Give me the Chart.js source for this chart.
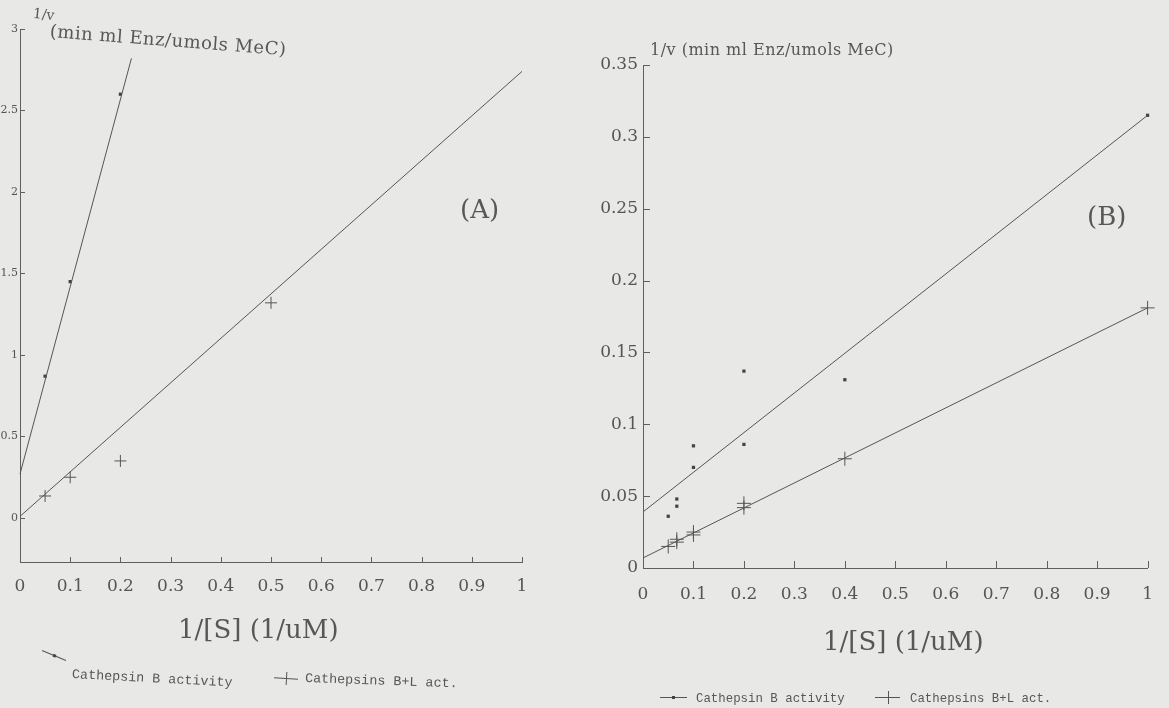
<!DOCTYPE html>
<html><head><meta charset="utf-8">
<script src="https://cdn.jsdelivr.net/npm/chart.js@4.4.1/dist/chart.umd.min.js"></script>
<style>
html,body{margin:0;padding:0;background:#e8e8e6;}
body{width:1169px;height:708px;position:relative;overflow:hidden;font-family:"DejaVu Serif",serif;color:#575757;}
.box{position:absolute;top:0;}
.txt{position:absolute;white-space:nowrap;line-height:1;}
.ttl{font-size:16px;letter-spacing:0.5px;}
.lg{font-family:"Liberation Mono",monospace;}
.mk{position:absolute;height:1px;background:#555;}
.mk .dot{position:absolute;left:50%;top:-1px;width:3px;height:3px;margin-left:-1.5px;background:#444;}
.mk .pl{position:absolute;left:50%;top:-6px;width:1px;height:13px;background:#555;}
</style>
</head><body>
<div class="box" style="left:0;width:560px;height:708px;"><canvas id="cA" width="560" height="708"></canvas></div>
<div class="box" style="left:580px;width:589px;height:708px;"><canvas id="cB" width="589" height="708"></canvas></div>

<div class="txt" style="left:33px;top:7px;font-size:14px;transform:rotate(6deg);">1/v</div>
<div class="txt ttl" style="left:50px;top:22px;font-size:18px;letter-spacing:0.5px;transform:rotate(4.4deg);transform-origin:0 50%;">(min ml Enz/umols MeC)</div>
<div class="txt ttl" style="left:650px;top:42px;">1/v (min ml Enz/umols MeC)</div>

<div class="txt" style="left:460px;top:196px;font-size:26px;">(A)</div>
<div class="txt" style="left:1087px;top:203px;font-size:26px;">(B)</div>

<div class="txt" style="left:178px;top:616px;font-size:26px;">1/[S] (1/uM)</div>
<div class="txt" style="left:823px;top:628px;font-size:26px;">1/[S] (1/uM)</div>

<div id="legA"></div>
<div id="legB"></div>

<script>
// ---- data ----
const seriesNames = ['Cathepsin B activity', 'Cathepsins B+L act.'];
const xTicks  = [0, 0.1, 0.2, 0.3, 0.4, 0.5, 0.6, 0.7, 0.8, 0.9, 1];
const yTicksA = [0, 0.5, 1, 1.5, 2, 2.5, 3];
const yTicksB = [0, 0.05, 0.1, 0.15, 0.2, 0.25, 0.3, 0.35];

// Panel A
const catB_A_x  = [0.05, 0.1, 0.2];
const catB_A_y  = [0.87, 1.45, 2.6];
const catBL_A_x = [0.05, 0.1, 0.2, 0.5];
const catBL_A_y = [0.135, 0.25, 0.35, 1.32];
const fitB_A_x  = [0, 0.222];
const fitB_A_y  = [0.27, 2.82];
const fitBL_A_x = [0, 1];
const fitBL_A_y = [0.01, 2.74];

// Panel B
const catB_B_x  = [0.05, 0.067, 0.067, 0.1, 0.1, 0.2, 0.2, 0.4, 1];
const catB_B_y  = [0.036, 0.048, 0.043, 0.085, 0.070, 0.137, 0.086, 0.131, 0.315];
const catBL_B_x = [0.05, 0.067, 0.067, 0.1, 0.1, 0.2, 0.2, 0.4, 1];
const catBL_B_y = [0.015, 0.018, 0.020, 0.023, 0.025, 0.042, 0.045, 0.076, 0.181];
const fitB_B_x  = [0, 1];
const fitB_B_y  = [0.039, 0.315];
const fitBL_B_x = [0, 1];
const fitBL_B_y = [0.007, 0.181];

// ---- helpers ----
const INK = '#555';
const pts = (xs, ys) => xs.map((x, i) => ({x: x, y: ys[i]}));

const innerTicks = {
  id: 'innerTicks',
  afterDraw(chart, args, opts) {
    const ctx = chart.ctx, xs = chart.scales.x, ys = chart.scales.y;
    const L = opts.len || 7;
    ctx.save();
    ctx.strokeStyle = '#5f5f5f'; ctx.lineWidth = 1;
    xs.ticks.forEach(t => {
      const p = Math.round(xs.getPixelForValue(t.value)) + 0.5;
      ctx.beginPath(); ctx.moveTo(p, xs.top); ctx.lineTo(p, xs.top - L); ctx.stroke();
    });
    ys.ticks.forEach(t => {
      const p = Math.round(ys.getPixelForValue(t.value)) + 0.5;
      ctx.beginPath(); ctx.moveTo(ys.right, p); ctx.lineTo(ys.right + L, p); ctx.stroke();
    });
    ctx.restore();
  }
};

function lineDs(xs, ys) {
  return {data: pts(xs, ys), showLine: true, borderColor: INK, borderWidth: 1,
          pointRadius: 0, fill: false, tension: 0, clip: false};
}
function dotDs(name, xs, ys) {
  return {label: name, data: pts(xs, ys), showLine: false, pointStyle: 'rect',
          pointRadius: 2.3, backgroundColor: '#444', borderColor: '#444', borderWidth: 0, clip: false};
}
function crossDs(name, xs, ys, r) {
  return {label: name, data: pts(xs, ys), showLine: false, pointStyle: 'cross',
          pointRadius: r, borderColor: INK, borderWidth: 1, clip: false};
}

function makeChart(id, cfg) {
  return new Chart(document.getElementById(id), {
    type: 'scatter',
    data: {datasets: cfg.datasets},
    options: {
      responsive: false, animation: false, devicePixelRatio: 1,
      layout: {padding: cfg.padding},
      plugins: {legend: {display: false}, tooltip: {enabled: false}, innerTicks: {len: cfg.tickLen}},
      scales: {
        x: {
          type: 'linear', min: 0, max: 1,
          afterBuildTicks: s => { s.ticks = xTicks.map(v => ({value: v})); },
          afterFit: s => { s.height = cfg.xH; },
          grid: {display: false, drawTicks: false},
          border: {color: '#5f5f5f', width: 1},
          ticks: {padding: cfg.xPad, color: '#555', autoSkip: false, maxRotation: 0,
                  font: {family: 'DejaVu Serif', size: 17}, callback: v => String(v)}
        },
        y: {
          type: 'linear', min: cfg.yMin, max: cfg.yMax,
          afterBuildTicks: s => { s.ticks = cfg.yTicks.map(v => ({value: v})); },
          afterFit: s => { s.width = cfg.yW; },
          grid: {display: false, drawTicks: false},
          border: {color: '#5f5f5f', width: 1},
          ticks: {padding: cfg.yPad, color: '#555', autoSkip: false,
                  font: {family: 'DejaVu Serif', size: cfg.yFont}, callback: v => String(v)}
        }
      }
    },
    plugins: [innerTicks]
  });
}

makeChart('cA', {
  datasets: [
    lineDs(fitB_A_x, fitB_A_y),
    lineDs(fitBL_A_x, fitBL_A_y),
    dotDs(seriesNames[0], catB_A_x, catB_A_y),
    crossDs(seriesNames[1], catBL_A_x, catBL_A_y, 6)
  ],
  padding: {left: 0, top: 29, right: 38, bottom: 0},
  xH: 146, yW: 20, yMin: -0.27, yMax: 3, yTicks: yTicksA,
  xPad: 14, yPad: 2, yFont: 11, tickLen: 5
});

makeChart('cB', {
  datasets: [
    lineDs(fitB_B_x, fitB_B_y),
    lineDs(fitBL_B_x, fitBL_B_y),
    dotDs(seriesNames[0], catB_B_x, catB_B_y),
    crossDs(seriesNames[1], catBL_B_x, catBL_B_y, 7)
  ],
  padding: {left: 0, top: 65, right: 6, bottom: 0},
  xH: 140, yW: 63, yMin: 0, yMax: 0.35, yTicks: yTicksB,
  xPad: 16, yPad: 5, yFont: 17, tickLen: 7
});

// ---- legends (HTML text) ----
function legend(el, items) {
  el.innerHTML = items.map(it =>
    `<div class="mk" style="left:${it.mx}px;top:${it.my}px;width:${it.mw}px;transform:rotate(${it.mr||0}deg);">` +
    `<span class="${it.kind}"></span></div>` +
    `<div class="txt lg" style="left:${it.tx}px;top:${it.ty}px;font-size:${it.fs}px;transform:rotate(${it.tr||0}deg);transform-origin:0 50%;">${it.name}</div>`
  ).join('');
}
legend(document.getElementById('legA'), [
  {name: seriesNames[0], kind: 'dot', mx: 41, my: 655, mw: 26, mr: 23, tx: 72, ty: 668, fs: 13.4, tr: 3},
  {name: seriesNames[1], kind: 'pl', mx: 274, my: 678, mw: 24, mr: 3, tx: 305, ty: 672, fs: 13.4, tr: 2}
]);
legend(document.getElementById('legB'), [
  {name: seriesNames[0], kind: 'dot', mx: 660, my: 697, mw: 27, tx: 696, ty: 693, fs: 12.4},
  {name: seriesNames[1], kind: 'pl', mx: 875, my: 697, mw: 25, tx: 910, ty: 693, fs: 12.4}
]);
</script>
</body></html>
